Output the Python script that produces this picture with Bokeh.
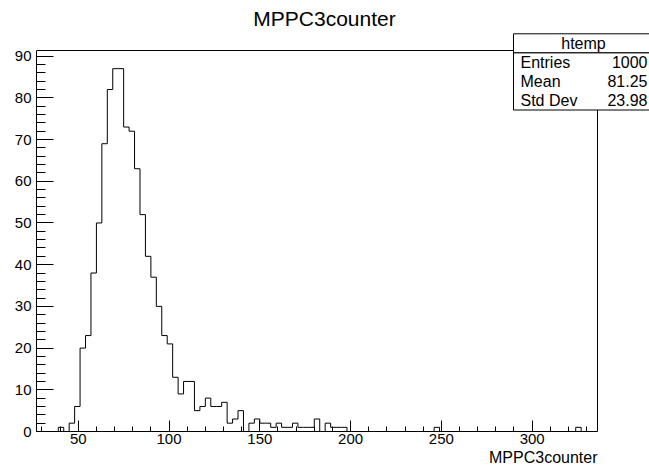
import numpy as np
from bokeh.plotting import figure
from bokeh.models import (SingleIntervalTicker, Label, BoxAnnotation, Range1d, Title)
from bokeh.embed import file_html
from bokeh.resources import INLINE

# ---------------- data ----------------
title_text = "MPPC3counter"
x_title = "MPPC3counter"
hist_name = "htemp"
stat_names = ["Entries", "Mean", "Std Dev"]
stat_values = ["1000", "81.25", "23.98"]

x_min = 27
bin_width = 3
counts = [0, 0, 0, 0, 1, 0, 2, 6, 20, 23,
          38, 50, 69, 82, 87, 87, 73, 72, 63, 52,
          42, 37, 30, 23, 21, 13, 9, 12, 12, 5,
          6, 8, 6, 6, 7, 2, 3, 5, 0, 2,
          3, 2, 2, 1, 2, 1, 1, 2, 1, 1,
          1, 3, 0, 2, 1, 1, 1, 0, 0, 0,
          0, 0, 0, 0, 0, 0, 0, 0, 0, 0,
          0, 0, 0, 1, 0, 0, 0, 0, 0, 0,
          0, 0, 0, 0, 0, 0, 0, 0, 0, 0,
          0, 0, 0, 0, 0, 0, 0, 0, 0, 1,
          0, 0, 0]
x_tick_interval = 50
y_tick_interval = 10

# ---------------- derived ----------------
edges = x_min + bin_width * np.arange(len(counts) + 1)
x_max = float(edges[-1])
y_max = max(counts) * 1.05

W, H = 649, 467
# ROOT frame position on the canvas (pixels)
FL, FR, FT, FB = 36, 597, 50, 431


def wx(px):
    return x_min + (px - FL) / (FR - FL) * (x_max - x_min)


def wy(py):
    return y_max * (FB - py) / (FB - FT)


FONT = "Liberation Sans"

p = figure(width=W, height=H, output_backend="svg", toolbar_location=None,
           x_range=Range1d(x_min, wx(W)), y_range=Range1d(0, wy(0)),
           min_border_left=FL, min_border_right=0, min_border_top=0,
           min_border_bottom=H - FB, background_fill_color="white",
           border_fill_color="white")
p.outline_line_color = None
p.xgrid.visible = False
p.ygrid.visible = False

p.xaxis.ticker = SingleIntervalTicker(interval=x_tick_interval, num_minor_ticks=5)
p.yaxis.ticker = SingleIntervalTicker(interval=y_tick_interval, num_minor_ticks=5)
p.xaxis.bounds = (x_min, x_max)
p.yaxis.bounds = (0, y_max)
for ax in (p.xaxis, p.yaxis):
    ax.axis_line_color = "black"
    ax.major_tick_line_color = "black"
    ax.minor_tick_line_color = "black"
    ax.major_tick_out = 0
    ax.minor_tick_out = 0
    ax.major_label_text_font = FONT
    ax.major_label_text_font_size = "15px"
    ax.major_label_text_color = "black"
p.xaxis.major_tick_in = 11
p.xaxis.minor_tick_in = 5
p.xaxis.major_label_standoff = 2
p.yaxis.major_tick_in = 17
p.yaxis.minor_tick_in = 9
p.yaxis.major_label_standoff = 5

# x-axis title, right-aligned at the frame's right edge
p.add_layout(Title(text=x_title, align="right", offset=W - FR, standoff=0,
                   text_font=FONT, text_font_size="16px",
                   text_font_style="normal", text_color="black"), "below")

# top and right edges of the ROOT frame
p.line(x=[x_min, x_max, x_max], y=[y_max, y_max, 0], line_color="black",
       line_width=1)

# histogram outline
p.step(x=edges, y=np.append(counts, counts[-1]), mode="after",
       line_color="black", line_width=1)

# title
p.add_layout(Label(x=wx(324), y=wy(18), text=title_text, text_align="center",
                   text_baseline="middle", text_font=FONT,
                   text_font_size="21px", text_color="black"))

# stats box
box_l, box_r = wx(513), wx(W + 20)
row_tops = [33.3, 52.4, 109.5]
p.add_layout(BoxAnnotation(left=box_l, right=box_r, top=wy(row_tops[0]),
                           bottom=wy(row_tops[1]), fill_color="white",
                           fill_alpha=1, line_color="black", line_width=1,
                           line_alpha=1))
p.add_layout(BoxAnnotation(left=box_l, right=box_r, top=wy(row_tops[1]),
                           bottom=wy(row_tops[2]), fill_color="white",
                           fill_alpha=1, line_color="black", line_width=1,
                           line_alpha=1))
p.add_layout(Label(x=wx(583), y=wy(42.8), text=hist_name, text_align="center",
                   text_baseline="middle", text_font=FONT,
                   text_font_size="16px", text_color="black", level="overlay"))
row_h = (row_tops[2] - row_tops[1]) / len(stat_names)
for i, (n, v) in enumerate(zip(stat_names, stat_values)):
    yc = wy(row_tops[1] + row_h * (i + 0.5))
    p.add_layout(Label(x=wx(520), y=yc, text=n, text_align="left",
                       text_baseline="middle", text_font=FONT,
                       text_font_size="16px", text_color="black", level="overlay"))
    p.add_layout(Label(x=wx(647), y=yc, text=v, text_align="right",
                       text_baseline="middle", text_font=FONT,
                       text_font_size="16px", text_color="black", level="overlay"))

open("out.html", "w").write(file_html(p, INLINE))
